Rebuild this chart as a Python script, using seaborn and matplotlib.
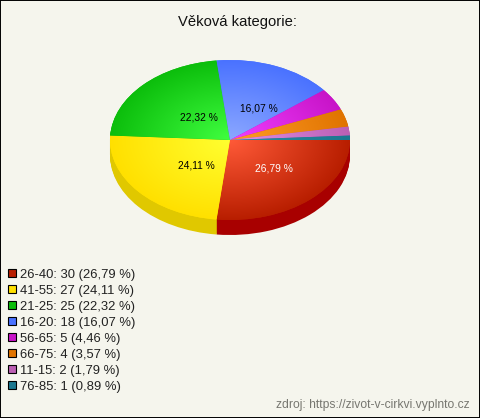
import matplotlib
matplotlib.use("Agg")
import matplotlib.pyplot as plt
import matplotlib.patches as mpatches
import matplotlib.transforms as mtrans
import numpy as np
import seaborn as sns

# Data
categories = ["26-40", "41-55", "21-25", "16-20", "56-65", "66-75", "11-15", "76-85"]
counts = [30, 27, 25, 18, 5, 4, 2, 1]
percent_labels = ["26,79", "24,11", "22,32", "16,07", "4,46", "3,57", "1,79", "0,89"]

# Colours of each slice: outer edge, centre, side wall
outer_colors = ["#B81E00", "#FFE000", "#0CBE0C", "#4A72FF", "#C814C8", "#E07400", "#BC60B4", "#1C7890"]
inner_colors = ["#FF5A38", "#FFFF30", "#40FF40", "#8CA8FF", "#F040FF", "#FF9C28", "#E090E8", "#2C8CA4"]
side_colors = ["#A80000", "#E0C800", "#0A9A0A", "#3A5AD0", "#A010A0", "#B85C00", "#98509A", "#14606F"]
bg_color = "#F5F5ED"

sns.set_style("white")
plt.rcParams["font.family"] = ["Liberation Sans", "DejaVu Sans"]

W, H = 480, 418
CX, CY, RX, RY, DEPTH = 230, 140, 120, 80, 15

fig = plt.figure(figsize=(W / 100, H / 100), dpi=100, facecolor=bg_color)
ax = fig.add_axes([0, 0, 1, 1], facecolor=bg_color)

# side wall: the same pie stacked downwards
for k in range(DEPTH, 0, -1):
    ax.pie(counts, colors=side_colors, startangle=0, counterclock=False,
           center=(0, -k / RY), wedgeprops={"linewidth": 0})

wedges, _ = ax.pie(counts, colors=outer_colors, startangle=0, counterclock=False,
                   wedgeprops={"linewidth": 0})

# radial gradient clipped to each slice
xx, yy = np.meshgrid(np.linspace(-1, 1, 300), np.linspace(-1, 1, 300))
rr = np.sqrt(xx ** 2 + yy ** 2)
for wedge, dark, light in zip(wedges, outer_colors, inner_colors):
    cmap = sns.blend_palette([light, dark], as_cmap=True)
    im = ax.imshow(rr, cmap=cmap, vmin=0, vmax=1, extent=(-1, 1, -1, 1),
                   origin="lower", aspect="auto", zorder=wedge.get_zorder() + 0.5)
    im.set_clip_path(wedge)

ax.set_aspect("auto")
ax.set_xlim(-CX / RX, (W - CX) / RX)
ax.set_ylim((CY - H) / RY, CY / RY)
ax.set_xticks([])
ax.set_yticks([])
ax.set_frame_on(True)
for spine in ax.spines.values():
    spine.set_visible(True)
    spine.set_color("black")
    spine.set_linewidth(1.4)

# percent labels on the big slices
total = sum(counts)
shift = mtrans.ScaledTranslation(8 / 100, -2 / 100, fig.dpi_scale_trans)
start = 0
for i, (n, pct) in enumerate(zip(counts, percent_labels)):
    mid = np.deg2rad(start + n / total * 180)
    start += n / total * 360
    if n / total > 0.05:
        ax.text(0.45 * np.cos(mid), -0.45 * np.sin(mid), pct + " %",
                ha="center", va="center", fontsize=7.4, zorder=10,
                color="white" if i == 0 else "black",
                transform=ax.transData + shift)

handles = [mpatches.Patch(facecolor=c, edgecolor="black", linewidth=0.8) for c in outer_colors]
labels = [f"{c}: {n} ({p} %)" for c, n, p in zip(categories, counts, percent_labels)]
ax.legend(handles, labels, loc="lower left", bbox_to_anchor=(8 / W, 1 - 393 / H),
          bbox_transform=fig.transFigure, frameon=False, borderpad=0, borderaxespad=0,
          fontsize=9.4, handlelength=0.58, handleheight=0.58, handletextpad=0.36,
          labelspacing=0.31, labelcolor="#222222")

fig.text(237 / W, 1 - 22 / H, "Věková kategorie:", ha="center", va="center",
         fontsize=10.6, color="#111111")
fig.text(470 / W, 1 - 405 / H, "zdroj: https://zivot-v-cirkvi.vyplnto.cz", ha="right",
         va="center", fontsize=8.7, color="#777770")

fig.savefig("out.png", dpi=100, facecolor=bg_color)
